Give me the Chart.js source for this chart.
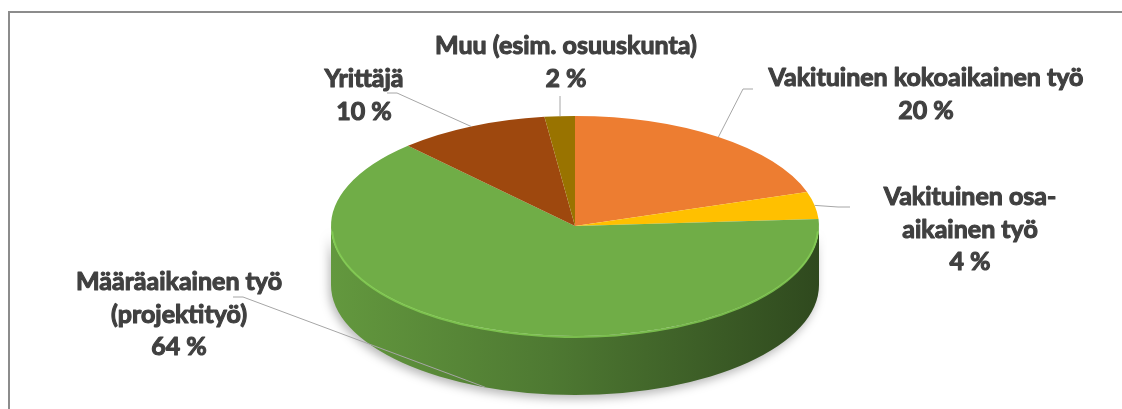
<!DOCTYPE html>
<html lang="fi">
<head>
    <meta charset="UTF-8">
    <title>Työsuhteen muoto</title>
    <style>
        html, body {
            margin: 0;
            padding: 0;
            background: #ffffff;
            overflow: hidden;
        }

        .frame {
            position: absolute;
            left: 8px;
            top: 11px;
            width: 1300px;
            height: 600px;
            border: 2px solid #8c8c8c;
            box-sizing: border-box;
        }

        .chart-box {
            position: absolute;
            left: 0;
            top: 0;
            width: 1122px;
            height: 409px;
        }
    </style>
    <script src="https://cdn.jsdelivr.net/npm/chart.js"></script>
</head>
<body>
    <div class="frame"></div>
    <div class="chart-box">
        <canvas id="pieChart"></canvas>
    </div>

<script>
    // data
    const categories = ['Vakituinen kokoaikainen työ', 'Vakituinen osa-aikainen työ', 'Määräaikainen työ (projektityö)', 'Yrittäjä', 'Muu (esim. osuuskunta)'];
    const shares = [20, 4, 64, 10, 2];
    const labelLines = [
        ['Vakituinen kokoaikainen työ'],
        ['Vakituinen osa-', 'aikainen työ'],
        ['Määräaikainen työ', '(projektityö)'],
        ['Yrittäjä'],
        ['Muu (esim. osuuskunta)']
    ];
    const sliceColors = ['#ED7D31', '#FFC000', '#70AD47', '#9E480E', '#997300'];

    // layout of the tilted pie (screen pixels)
    const pie = { cx: 575, cy: 226, rx: 244, ry: 110, depth: 59 };

    // label centre (first line) and the label end of each leader line
    const labelPos = [[926, 78], [970, 197], [179, 282], [364, 79], [566, 46]];
    const leaderStart = [
        [[753, 89], [743, 89]],
        [[850, 207], [838, 207]],
        [[233, 297], [243, 297]],
        [[387, 93], [397, 93]],
        [[560, 96]]
    ];
    const lineHeight = 32.5;

    function shade(hex, f) {
        const n = parseInt(hex.slice(1), 16);
        const r = Math.min(255, Math.round(((n >> 16) & 255) * f));
        const g = Math.min(255, Math.round(((n >> 8) & 255) * f));
        const b = Math.min(255, Math.round((n & 255) * f));
        return 'rgb(' + r + ',' + g + ',' + b + ')';
    }

    const tiltPlugin = {
        id: 'tilt',
        beforeDatasetsDraw(chart) {
            const ctx = chart.ctx;
            const arcs = chart.getDatasetMeta(0).data;

            // side walls of the front half
            arcs.forEach((arc, i) => {
                const a = Math.max(arc.startAngle, 0);
                const b = Math.min(arc.endAngle, Math.PI);
                if (a >= b) return;
                const col = sliceColors[i];
                const grad = ctx.createLinearGradient(pie.cx - pie.rx, 0, pie.cx + pie.rx, 0);
                grad.addColorStop(0, shade(col, 0.88));
                grad.addColorStop(0.45, shade(col, 0.7));
                grad.addColorStop(1, shade(col, 0.42));
                ctx.save();
                ctx.beginPath();
                ctx.ellipse(pie.cx, pie.cy, pie.rx, pie.ry, 0, a, b);
                ctx.ellipse(pie.cx, pie.cy + pie.depth, pie.rx, pie.ry, 0, b, a, true);
                ctx.closePath();
                ctx.shadowColor = 'rgba(0,0,0,0.28)';
                ctx.shadowBlur = 10;
                ctx.shadowOffsetX = -2;
                ctx.shadowOffsetY = 4;
                ctx.fillStyle = grad;
                ctx.fill();
                ctx.restore();
            });

            // squash the library's round pie into the top face
            const first = arcs[0];
            const R = first.outerRadius;
            ctx.save();
            ctx.translate(pie.cx, pie.cy);
            ctx.scale(pie.rx / R, pie.ry / R);
            ctx.translate(-first.x, -first.y);
        },
        afterDatasetsDraw(chart) {
            const ctx = chart.ctx;
            ctx.restore();

            // light bevel along the front rim
            const arcs = chart.getDatasetMeta(0).data;
            arcs.forEach((arc, i) => {
                const a = Math.max(arc.startAngle, 0.04);
                const b = Math.min(arc.endAngle, Math.PI - 0.04);
                if (a >= b) return;
                ctx.save();
                ctx.beginPath();
                ctx.ellipse(pie.cx, pie.cy + 1, pie.rx - 1, pie.ry, 0, a, b);
                ctx.strokeStyle = shade(sliceColors[i], 1.2);
                ctx.globalAlpha = 0.8;
                ctx.lineWidth = 2;
                ctx.stroke();
                ctx.restore();
            });
        },
        afterDraw(chart) {
            const ctx = chart.ctx;
            const arcs = chart.getDatasetMeta(0).data;
            const total = shares.reduce((s, v) => s + v, 0);

            arcs.forEach((arc, i) => {
                // leader line from label to slice edge
                const mid = (arc.startAngle + arc.endAngle) / 2;
                const sin = Math.sin(mid);
                const ex = pie.cx + pie.rx * Math.cos(mid);
                const ey = pie.cy + pie.ry * sin + (sin > 0.3 ? pie.depth : 0);
                const pts = leaderStart[i];
                ctx.save();
                ctx.beginPath();
                ctx.moveTo(pts[0][0], pts[0][1]);
                for (let k = 1; k < pts.length; k++) ctx.lineTo(pts[k][0], pts[k][1]);
                ctx.lineTo(pts.length === 1 ? pts[0][0] : ex, ey);
                ctx.strokeStyle = '#a6a6a6';
                ctx.lineWidth = 1;
                ctx.stroke();
                ctx.restore();

                // label text (stroked a little to get the heavy weight)
                const lines = labelLines[i].concat([Math.round(shares[i] / total * 100) + ' %']);
                ctx.save();
                ctx.font = 'bold 25px Lato, "Open Sans", sans-serif';
                ctx.fillStyle = '#404040';
                ctx.strokeStyle = '#404040';
                ctx.lineWidth = 1.1;
                ctx.lineJoin = 'round';
                ctx.textAlign = 'center';
                ctx.textBaseline = 'middle';
                lines.forEach((t, k) => {
                    const y = labelPos[i][1] + k * lineHeight;
                    ctx.strokeText(t, labelPos[i][0], y);
                    ctx.fillText(t, labelPos[i][0], y);
                });
                ctx.restore();
            });
        }
    };

    const ctx = document.getElementById('pieChart').getContext('2d');
    new Chart(ctx, {
        type: 'pie',
        data: {
            labels: categories,
            datasets: [{
                data: shares,
                backgroundColor: sliceColors,
                borderWidth: 0,
                clip: false
            }]
        },
        options: {
            responsive: true,
            maintainAspectRatio: false,
            animation: false,
            events: [],
            plugins: {
                legend: { display: false },
                tooltip: { enabled: false }
            }
        },
        plugins: [tiltPlugin]
    });
</script>
</body>
</html>
